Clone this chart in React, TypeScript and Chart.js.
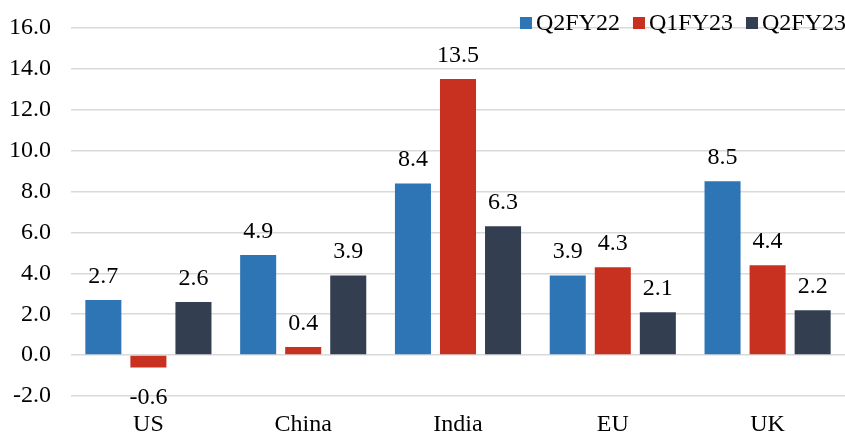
import React, { useEffect, useRef } from "react";
import { Chart, registerables } from "chart.js";

Chart.register(...registerables);

const categories = ["US", "China", "India", "EU", "UK"];
const seriesNames = ["Q2FY22", "Q1FY23", "Q2FY23"];
const q2fy22 = [2.7, 4.9, 8.4, 3.9, 8.5];
const q1fy23 = [-0.6, 0.4, 13.5, 4.3, 4.4];
const q2fy23 = [2.6, 3.9, 6.3, 2.1, 2.2];
const seriesColors = ["#2E75B6", "#C8311F", "#333F50"];

const FONT = '"Liberation Serif", "Times New Roman", serif';
const FONT_SIZE = 24;

// Value labels above positive bars and below negative bars
const valueLabels = {
  id: "valueLabels",
  afterDatasetsDraw(chart: any) {
    const ctx = chart.ctx;
    ctx.save();
    ctx.font = `${FONT_SIZE}px ${FONT}`;
    ctx.fillStyle = "#000";
    ctx.textAlign = "center";
    ctx.textBaseline = "alphabetic";
    chart.data.datasets.forEach((ds: any, di: number) => {
      const meta = chart.getDatasetMeta(di);
      meta.data.forEach((bar: any, i: number) => {
        const v = ds.data[i];
        const text = v.toFixed(1);
        if (v >= 0) {
          ctx.fillText(text, bar.x, bar.y - 17);
        } else {
          ctx.fillText(text, bar.x, bar.y + 37);
        }
      });
    });
    ctx.restore();
  },
};

// Legend row in the top-right corner
const cornerLegend = {
  id: "cornerLegend",
  afterDraw(chart: any) {
    const ctx = chart.ctx;
    ctx.save();
    ctx.font = `${FONT_SIZE}px ${FONT}`;
    ctx.textBaseline = "alphabetic";
    ctx.textAlign = "left";
    const box = 12;
    const gap = 16;
    const spacing = 13;
    const widths = seriesNames.map((n) => ctx.measureText(n).width);
    const total =
      widths.reduce((a, w) => a + gap + w, 0) + spacing * (seriesNames.length - 1);
    let x = chart.width + 1 - total;
    seriesNames.forEach((name, i) => {
      ctx.fillStyle = seriesColors[i];
      ctx.fillRect(x, 17, box, box);
      ctx.fillStyle = "#000";
      ctx.fillText(name, x + gap, 30);
      x += gap + widths[i] + spacing;
    });
    ctx.restore();
  },
};

export default function App() {
  const canvasRef = useRef<HTMLCanvasElement>(null);

  useEffect(() => {
    if (!canvasRef.current) return;
    const seriesValues = [q2fy22, q1fy23, q2fy23];
    const chart = new Chart(canvasRef.current, {
      type: "bar",
      data: {
        labels: categories,
        datasets: seriesNames.map((name, i) => ({
          label: name,
          data: seriesValues[i],
          backgroundColor: seriesColors[i],
          borderWidth: 0,
          barPercentage: 0.8,
          categoryPercentage: 0.873,
        })),
      },
      options: {
        responsive: false,
        animation: false,
        devicePixelRatio: 1,
        layout: { padding: { top: 28, right: 0, bottom: 0, left: 0 } },
        plugins: {
          legend: { display: false },
          tooltip: { enabled: false },
        },
        scales: {
          x: {
            afterFit: (scale: any) => {
              scale.height = 37;
            },
            grid: { display: false, drawTicks: false },
            border: { display: false },
            ticks: {
              color: "#000",
              padding: 14,
              font: { family: FONT, size: FONT_SIZE, lineHeight: 1.2 },
            },
          },
          y: {
            min: -2,
            max: 16,
            afterFit: (scale: any) => {
              scale.width = 71;
              scale.paddingTop = 0;
              scale.paddingBottom = 0;
            },
            grid: { color: "#D9D9D9", lineWidth: 1.5, drawTicks: false },
            border: { display: false },
            ticks: {
              stepSize: 2,
              color: "#000",
              padding: 20,
              font: { family: FONT, size: FONT_SIZE },
              callback: (v: any) => Number(v).toFixed(1),
            },
          },
        },
      },
      plugins: [valueLabels, cornerLegend],
    });
    return () => chart.destroy();
  }, []);

  return (
    <div style={{ position: "absolute", left: 0, top: 0, width: 845, height: 433 }}>
      <canvas ref={canvasRef} width={845} height={433} style={{ display: "block" }} />
    </div>
  );
}
